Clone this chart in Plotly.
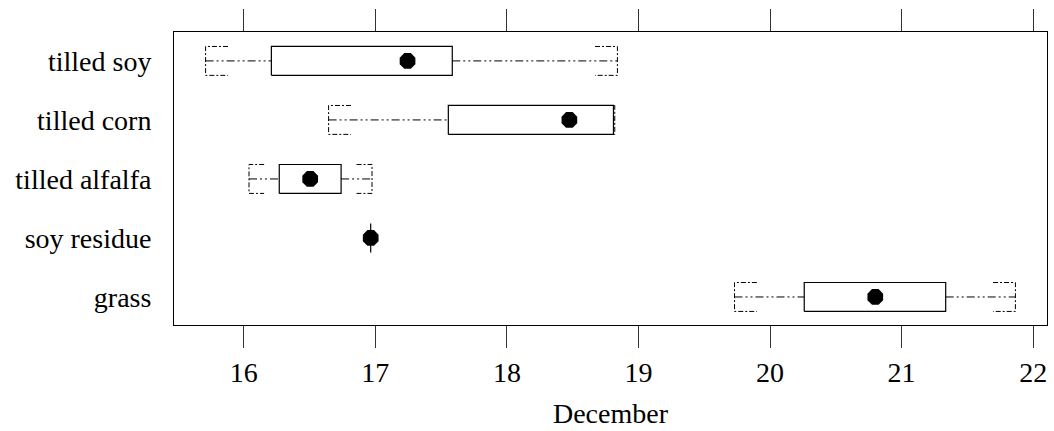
import plotly.graph_objects as go

# Planting dates in December, one row per treatment (top to bottom)
treatments = ["tilled soy", "tilled corn", "tilled alfalfa", "soy residue", "grass"]
lower_whisker = [15.71, 16.645, 16.04, 16.965, 19.73]
lower_quartile = [16.21, 17.555, 16.27, 16.965, 20.26]
medians = [17.245, 18.475, 16.505, 16.965, 20.80]
upper_quartile = [17.585, 18.81, 16.74, 16.965, 21.335]
upper_whisker = [18.84, 18.82, 16.975, 16.965, 21.865]
x_ticks = [16, 17, 18, 19, 20, 21, 22]

n = len(treatments)
ypos = [n - i for i in range(n)]  # first treatment at the top
half_h = 0.245                     # half of the box height, in row units
arm_max = 0.17                     # length of the bracket arms at whisker ends

FONT = "Liberation Serif, Times New Roman, serif"

box_x, box_y = [], []
whisk_x, whisk_y = [], []
brk_x, brk_y = [], []
for y, lo, q1, q3, hi in zip(ypos, lower_whisker, lower_quartile,
                             upper_quartile, upper_whisker):
    box_x += [q1, q3, q3, q1, q1, None]
    box_y += [y - half_h, y - half_h, y + half_h, y + half_h, y - half_h, None]
    whisk_x += [lo, q1, None, q3, hi, None]
    whisk_y += [y, y, None, y, y, None]
    a_lo = min(arm_max, 0.5 * (q1 - lo))
    a_hi = min(arm_max, 0.5 * (hi - q3))
    if a_lo > 0:
        brk_x += [lo + a_lo, lo, lo, lo + a_lo, None]
        brk_y += [y + half_h, y + half_h, y - half_h, y - half_h, None]
    if a_hi > 0:
        brk_x += [hi - a_hi, hi, hi, hi - a_hi, None]
        brk_y += [y + half_h, y + half_h, y - half_h, y - half_h, None]

fig = go.Figure()
fig.add_trace(go.Scatter(x=whisk_x, y=whisk_y, mode="lines",
                         line=dict(color="black", width=1,
                                   dash="8px,3px,2px,3px,2px,3px"),
                         hoverinfo="skip"))
fig.add_trace(go.Scatter(x=brk_x, y=brk_y, mode="lines",
                         line=dict(color="black", width=1,
                                   dash="5px,2px,2px,2px"),
                         hoverinfo="skip"))
fig.add_trace(go.Scatter(x=box_x, y=box_y, mode="lines",
                         line=dict(color="black", width=1.2),
                         hoverinfo="skip"))
fig.add_trace(go.Scatter(x=medians, y=ypos, mode="markers",
                         marker=dict(symbol="octagon", size=17, color="black",
                                     line=dict(width=0))))

fig.update_layout(
    width=1054, height=431,
    margin=dict(l=174, r=7, t=32, b=106),
    paper_bgcolor="white", plot_bgcolor="white",
    showlegend=False,
    font=dict(family=FONT, size=28, color="black"),
)
fig.update_xaxes(
    range=[15.47, 22.105], tickvals=x_ticks, ticktext=[str(t) for t in x_ticks],
    ticks="outside", ticklen=22, tickwidth=1, tickcolor="#333",
    showline=True, linecolor="black", linewidth=1, mirror="allticks",
    showgrid=False, zeroline=False,
    tickfont=dict(family=FONT, size=28, color="black"),
    title=dict(text="December", font=dict(family=FONT, size=28, color="black"),
               standoff=16),
)
fig.update_yaxes(
    range=[0.525, 5.49], tickvals=ypos, ticktext=treatments,
    ticks="", showline=True, linecolor="black", linewidth=1, mirror=True,
    showgrid=False, zeroline=False, ticklabelstandoff=16,
    tickfont=dict(family=FONT, size=28, color="black"),
)

fig.write_html("out.html")
